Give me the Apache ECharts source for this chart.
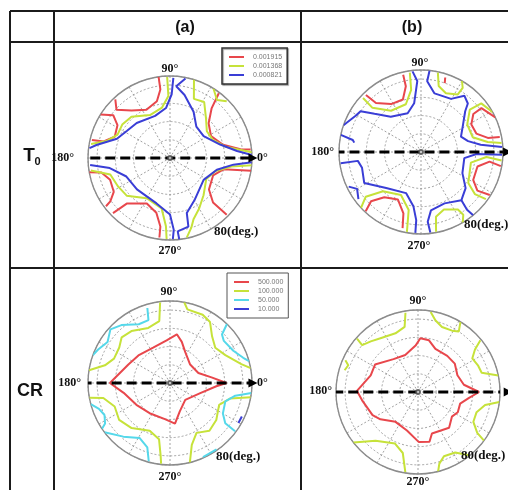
<!DOCTYPE html>
<html>
<head>
<meta charset="utf-8">
<script src="https://cdn.jsdelivr.net/npm/echarts@6/dist/echarts.min.js"></script>
<style>
  html, body { margin: 0; padding: 0; background: #fff; }
  #main { width: 508px; height: 490px; }
</style>
</head>
<body>
<div id="main"></div>
<script>
// every contour point is [radius (deg, 90 = rim), azimuth (deg)]

// ---- T0 (a)
var t0aRedTL = [[90,98],[76,98],[64,103],[59,116],[67,129],[79,138],[88,133]];
var t0aRedL  = [[90,148],[78,143],[68,148],[65,159],[75,166],[88,167]];
var t0aRedTR = [[89,53],[71,50],[57,42],[51,28],[60,14],[78,7],[89,6]];
var t0aRedBL = [[90,190],[77,192],[70,200],[72,211],[81,216],[88,217]];
var t0aRedB  = [[87,224],[69,226.5],[56,243],[62,256],[76,262],[88,262.4]];
var t0aRedBR = [[90,351],[60,348],[51,338],[55,321],[68,314],[88,315]];
var t0aYelTL = [[89,92],[68,91.5],[56,99],[52,115],[62,133],[64,145],[63,156],[72,165],[88,170]];
var t0aYelTR = [[90,73],[70,68],[72,58.6],[59,48],[50,36],[51,23],[63,11],[90,4]];
var t0aYelTRs = [[90,58],[82,51],[88,45]];
var t0aYelBL = [[88,189],[68,195.5],[65,208.7],[63,221],[51,240],[56,260.5],[75,266.6],[89,267.6]];
var t0aYelBR = [[90,355],[68,352],[52,344],[46,330],[55,312],[64,300],[72,291],[80,287],[89,282]];
var t0aBlueT  = [[89,79],[79,85],[71,77],[57,63],[45,50],[44,33],[57,15],[74,6],[90,2]];
var t0aBlueL  = [[88,87.6],[70,88.5],[55,94.6],[49,109.5],[53,133.6],[56,148],[62,160],[82,170],[89,173]];
var t0aBlueBL = [[88,185],[67,189.5],[52,203],[50,223.5],[52,253.5],[62,270],[79,273],[89,272]];
var t0aBlueBR = [[90,357],[70,354],[53,346],[44,327],[53,301],[63,287],[78,285],[81,276],[90,276.5]];

// ---- T0 (b)
var t0bRedTL = [[87,103],[74,103],[61,109],[62,122],[73,132.6],[87,134]];
var t0bRedT  = [[86,72],[80,71]];
var t0bRedR  = [[90,25],[82,36],[71,36],[63,28.7],[64,18.4],[75,11.9],[88,10.8]];
var t0bRedBR = [[89,350],[76,352],[64,345.6],[65,331.8],[75,325.6],[89,328]];
var t0bRedBL = [[89,227],[77,224.6],[64,231],[58,244],[70,254],[86,256.4]];
var t0bYelTL = [[88,98],[69,99],[55,107.6],[56,126],[72,137.7],[87,137]];
var t0bYelT  = [[89,78],[75,75],[70,67],[75,57.4],[84,57],[90,60]];
var t0bYelR  = [[90,29],[85,38.9],[71,41],[59,30.7],[59,16],[74,8.5],[89,6.4]];
var t0bYelBR = [[89,354],[72,355.6],[56,348],[62,326.8],[75,322],[88,324]];
var t0bYelB  = [[89,280.7],[73,283],[68,291.7],[75,302.7],[83,304],[90,300.6]];
var t0bYelBL = [[90,223],[78,219],[60,226],[52,245],[65,258],[89,260]];
var t0bBlueTL = [[89,96],[78,93],[54,98],[45,109],[51,130.6],[66,140.6],[80,146],[82,151],[90,161]];
var t0bBlueL  = [[90,168],[76,170],[74,172]];
var t0bBlueTR = [[90,84],[78,85],[66,77],[67,60.5],[78,52.4],[74,46],[66,42.7],[55,33],[47,21],[53,13],[66,7],[89,3.5]];
var t0bBlueBR = [[89,358],[61,358],[48,352],[51,333],[63,321],[69,310],[62,294.6],[65,279.7],[77,275.5],[89,276.6]];
var t0bBlueBR2 = [[69,310],[81,308.6],[90,309.5]];
var t0bBlueBL = [[89,188],[70,188],[67,195],[71,208.7],[55,226],[48,250],[60,262],[75,266],[89,266]];
var t0bBlueBLs = [[88,205.6],[81,210],[86,217]];

// ---- CR (a)
var crRed = [[62,0],[46,7.7],[33,19.4],[30,42.5],[38,64],[47,74],[54,82],[47,94.5],[43,115.5],[46,138.9],[50,156],[66,180],[52,192],[44,213],[40,236],[40,262],[45,277],[33,289],[25,312],[35,341.6],[51,356],[62,360]];
var crYelTL = [[89,97],[69,99.8],[65,111.5],[71,126.6],[73,136.6],[68,145],[67,156.5],[74,164.8],[90,171]];
var crYelTR = [[90,80],[83,76.7],[83,64.4],[80,56.7],[69,48],[63,37.9],[68,26.7],[81,14.8],[90,10.4]];
var crYelBL = [[90,190.4],[75,192.7],[66,203],[69,216],[65,229.6],[57,247],[63,259],[80,262.6],[89,263.7]];
var crYelBR = [[90,350],[68,345.4],[59,336],[65,321.4],[68,309.5],[62,298],[72,289.4],[90,284]];
var crCyanTL = [[86,106.8],[73,108.9],[73,118],[83,130],[88,138],[82,146.7],[87,155],[90,160]];
var crCyanTR = [[90,46],[78,43],[75,38],[78,27],[85,19],[90,15.5]];
var crCyanBL = [[90,195],[83,200],[80,206],[84,212],[90,214]];
var crCyanB  = [[90,217],[78,229],[69,241],[75,250.6],[89,254.8]];
var crCyanBR = [[90,353],[73,349],[64,341.6],[67,330],[75,324],[89,323.4]];
var crCyanRim = [[89,294],[89,305]];
var crBlue = [[87,335],[87,329.7]];

// ---- CR (b)
var crbRed = [[67,0],[51,9],[47,23],[51,37.7],[51,51],[51,68],[58,78],[59,87.5],[51,93],[43,109],[45,126.7],[56,147.4],[55,160.7],[67,179],[62,188.5],[56,207],[51,216],[41,233],[44,254],[55,271],[56,283],[48,288.6],[52,311],[46,324],[49,333],[48,344.6],[56,353],[67,360]];
var crbYelTL = [[88,99],[73,101.6],[69,111],[72,124.9],[76,133],[80,140],[89,138.8]];
var crbYelL  = [[87,156.4],[82,159],[84,163.5]];
var crbYelT  = [[89,81],[81,76.4],[76,69.7],[77,61],[80,56],[90,58.8]];
var crbYelR  = [[89,39.7],[78,36.7],[70,31.7],[72,24],[73,16.8],[90,11.6]];
var crbYelBR = [[90,353],[75,349],[68,341],[69,331.7],[79,325.4],[90,323.6]];
var crbYelB  = [[89,308.7],[78,301.6],[76,292],[82,286.6],[90,284.2]];
var crbYelBL = [[90,218],[71,229],[62,246],[69,256],[89,261]];

// dashed reference arrow, 180 deg side -> 0 deg side
var arrowT0a = [[104,180],[0,0],[91,0]];
var arrowT0b = [[95,180],[0,0],[95,0]];
var arrowCRa = [[97,180],[0,0],[91,0]];
var arrowCRb = [[93,180],[0,0],[99,0]];

var t0Levels = ['0.001915', '0.001368', '0.000821'];
var crLevels = ['500.000', '100.000', '50.000', '10.000'];

var RED = '#e8474c', YEL = '#c6e23a', BLUE = '#3a3ed6', CYAN = '#55d8ea';

var panels = [
    {center: [170, 158], r: 82},
    {center: [421, 152], r: 82},
    {center: [170, 383], r: 82},
    {center: [418, 392], r: 82}
];

var gridStyle = {color: '#8a8a8a', width: 0.8, type: [2, 2]};

function contour(name, color, idx, data) {
    return {
        name: name, type: 'line', coordinateSystem: 'polar', polarIndex: idx,
        data: data, showSymbol: false, symbol: 'none', smooth: false,
        lineStyle: {color: color, width: 2}, itemStyle: {color: color},
        z: 3
    };
}

function arrow(idx, pts) {
    var data = pts.map(function (p, i) {
        return i === pts.length - 1
            ? {value: p, symbol: 'triangle', symbolSize: [9, 9], symbolRotate: -90}
            : {value: p, symbol: 'none'};
    });
    return {
        type: 'line', coordinateSystem: 'polar', polarIndex: idx, data: data,
        showSymbol: true, showAllSymbol: true, clip: false,
        lineStyle: {color: '#000', width: 3, type: [10, 5]},
        itemStyle: {color: '#000'}, z: 5
    };
}

function centerMark(idx) {
    return {
        type: 'scatter', coordinateSystem: 'polar', polarIndex: idx,
        data: [[0, 0]], symbol: 'emptyCircle', symbolSize: 4,
        itemStyle: {color: '#444', borderWidth: 1}, z: 6
    };
}

var series = [
    contour(t0Levels[0], RED, 0, t0aRedTL), contour(t0Levels[0], RED, 0, t0aRedL),
    contour(t0Levels[0], RED, 0, t0aRedTR), contour(t0Levels[0], RED, 0, t0aRedBL),
    contour(t0Levels[0], RED, 0, t0aRedB), contour(t0Levels[0], RED, 0, t0aRedBR),
    contour(t0Levels[1], YEL, 0, t0aYelTL), contour(t0Levels[1], YEL, 0, t0aYelTR),
    contour(t0Levels[1], YEL, 0, t0aYelTRs), contour(t0Levels[1], YEL, 0, t0aYelBL),
    contour(t0Levels[1], YEL, 0, t0aYelBR),
    contour(t0Levels[2], BLUE, 0, t0aBlueT), contour(t0Levels[2], BLUE, 0, t0aBlueL),
    contour(t0Levels[2], BLUE, 0, t0aBlueBL), contour(t0Levels[2], BLUE, 0, t0aBlueBR),

    contour(t0Levels[0], RED, 1, t0bRedTL), contour(t0Levels[0], RED, 1, t0bRedT),
    contour(t0Levels[0], RED, 1, t0bRedR), contour(t0Levels[0], RED, 1, t0bRedBR),
    contour(t0Levels[0], RED, 1, t0bRedBL),
    contour(t0Levels[1], YEL, 1, t0bYelTL), contour(t0Levels[1], YEL, 1, t0bYelT),
    contour(t0Levels[1], YEL, 1, t0bYelR), contour(t0Levels[1], YEL, 1, t0bYelBR),
    contour(t0Levels[1], YEL, 1, t0bYelB), contour(t0Levels[1], YEL, 1, t0bYelBL),
    contour(t0Levels[2], BLUE, 1, t0bBlueTL), contour(t0Levels[2], BLUE, 1, t0bBlueL),
    contour(t0Levels[2], BLUE, 1, t0bBlueTR), contour(t0Levels[2], BLUE, 1, t0bBlueBR),
    contour(t0Levels[2], BLUE, 1, t0bBlueBR2), contour(t0Levels[2], BLUE, 1, t0bBlueBL),
    contour(t0Levels[2], BLUE, 1, t0bBlueBLs),

    contour(crLevels[0], RED, 2, crRed),
    contour(crLevels[1], YEL, 2, crYelTL), contour(crLevels[1], YEL, 2, crYelTR),
    contour(crLevels[1], YEL, 2, crYelBL), contour(crLevels[1], YEL, 2, crYelBR),
    contour(crLevels[2], CYAN, 2, crCyanTL), contour(crLevels[2], CYAN, 2, crCyanTR),
    contour(crLevels[2], CYAN, 2, crCyanBL), contour(crLevels[2], CYAN, 2, crCyanB),
    contour(crLevels[2], CYAN, 2, crCyanBR), contour(crLevels[2], CYAN, 2, crCyanRim),
    contour(crLevels[3], BLUE, 2, crBlue),

    contour(crLevels[0], RED, 3, crbRed),
    contour(crLevels[1], YEL, 3, crbYelTL), contour(crLevels[1], YEL, 3, crbYelL),
    contour(crLevels[1], YEL, 3, crbYelT), contour(crLevels[1], YEL, 3, crbYelR),
    contour(crLevels[1], YEL, 3, crbYelBR), contour(crLevels[1], YEL, 3, crbYelB),
    contour(crLevels[1], YEL, 3, crbYelBL),

    arrow(0, arrowT0a), arrow(1, arrowT0b), arrow(2, arrowCRa), arrow(3, arrowCRb),
    centerMark(0), centerMark(1), centerMark(2), centerMark(3)
];

var polar = [], angleAxis = [], radiusAxis = [];
panels.forEach(function (p, i) {
    polar.push({center: p.center, radius: p.r});
    angleAxis.push({
        polarIndex: i, type: 'value', min: 0, max: 360, interval: 30,
        startAngle: 0, clockwise: false,
        axisLine: {lineStyle: {color: '#8c8c8c', width: 1.4}},
        axisTick: {show: false}, axisLabel: {show: false},
        splitLine: {lineStyle: gridStyle}
    });
    radiusAxis.push({
        polarIndex: i, type: 'value', min: 0, max: 90, interval: 20,
        axisLine: {show: false}, axisTick: {show: false}, axisLabel: {show: false},
        splitLine: {lineStyle: gridStyle}
    });
});

var serif = 'bold 12px "Liberation Serif"';
function txt(s, x, y, align, font) {
    return {type: 'text', z: 10, style: {text: s, x: x, y: y, font: font || serif,
        textAlign: align || 'center', textVerticalAlign: 'middle', fill: '#111'}};
}
function ln(x1, y1, x2, y2) {
    return {type: 'line', z: 10, shape: {x1: x1, y1: y1, x2: x2, y2: y2},
        style: {stroke: '#1b1b1b', lineWidth: 2}};
}

var graphic = [
    ln(10, 11, 508, 11), ln(10, 42, 508, 42), ln(10, 268, 508, 268),
    ln(10, 11, 10, 490), ln(54, 11, 54, 490), ln(301, 11, 301, 490),
    txt('(a)', 185, 28, 'center', 'bold 16px "Liberation Sans"'),
    txt('(b)', 412, 28, 'center', 'bold 16px "Liberation Sans"'),
    txt('T', 29, 156, 'center', 'bold 19px "Liberation Sans"'),
    txt('0', 37.5, 162, 'center', 'bold 11px "Liberation Sans"'),
    txt('CR', 30, 391, 'center', 'bold 18px "Liberation Sans"'),

    txt('90°', 170, 69), txt('270°', 170, 251), txt('180°', 74, 158, 'right'),
    txt('0°', 257, 158, 'left'), txt('80(deg.)', 214, 232, 'left', 'bold 13px "Liberation Serif"'),

    txt('90°', 420, 63), txt('270°', 419, 246), txt('180°', 334, 152, 'right'),
    txt('80(deg.)', 464, 225, 'left', 'bold 13px "Liberation Serif"'),

    txt('90°', 169, 292), txt('270°', 170, 477), txt('180°', 81, 383, 'right'),
    txt('0°', 257, 383, 'left'), txt('80(deg.)', 216, 457, 'left', 'bold 13px "Liberation Serif"'),

    txt('90°', 418, 301), txt('270°', 418, 482), txt('180°', 332, 391, 'right'),
    txt('80(deg.)', 461, 456, 'left', 'bold 13px "Liberation Serif"')
];

var legendBase = {
    orient: 'vertical', icon: 'rect', itemWidth: 15, itemHeight: 2, itemGap: 1,
    backgroundColor: '#fff', selectedMode: false,
    textStyle: {fontSize: 7, lineHeight: 8, color: '#777', fontFamily: 'Liberation Sans', padding: [0, 0, 0, 4]}
};

var chart = echarts.init(document.getElementById('main'));
chart.setOption({
    animation: false,
    backgroundColor: '#fff',
    polar: polar,
    angleAxis: angleAxis,
    radiusAxis: radiusAxis,
    legend: [
        Object.assign({}, legendBase, {data: t0Levels, left: 222, top: 48,
            padding: [5, 5, 5, 7], borderColor: '#333', borderWidth: 1.5,
            shadowColor: 'rgba(0,0,0,0.4)', shadowOffsetX: 1, shadowOffsetY: 1, shadowBlur: 1}),
        Object.assign({}, legendBase, {data: crLevels, left: 227, top: 273,
            padding: [5, 5, 5, 7], borderColor: '#555', borderWidth: 1})
    ],
    graphic: graphic,
    series: series
});
</script>
</body>
</html>
